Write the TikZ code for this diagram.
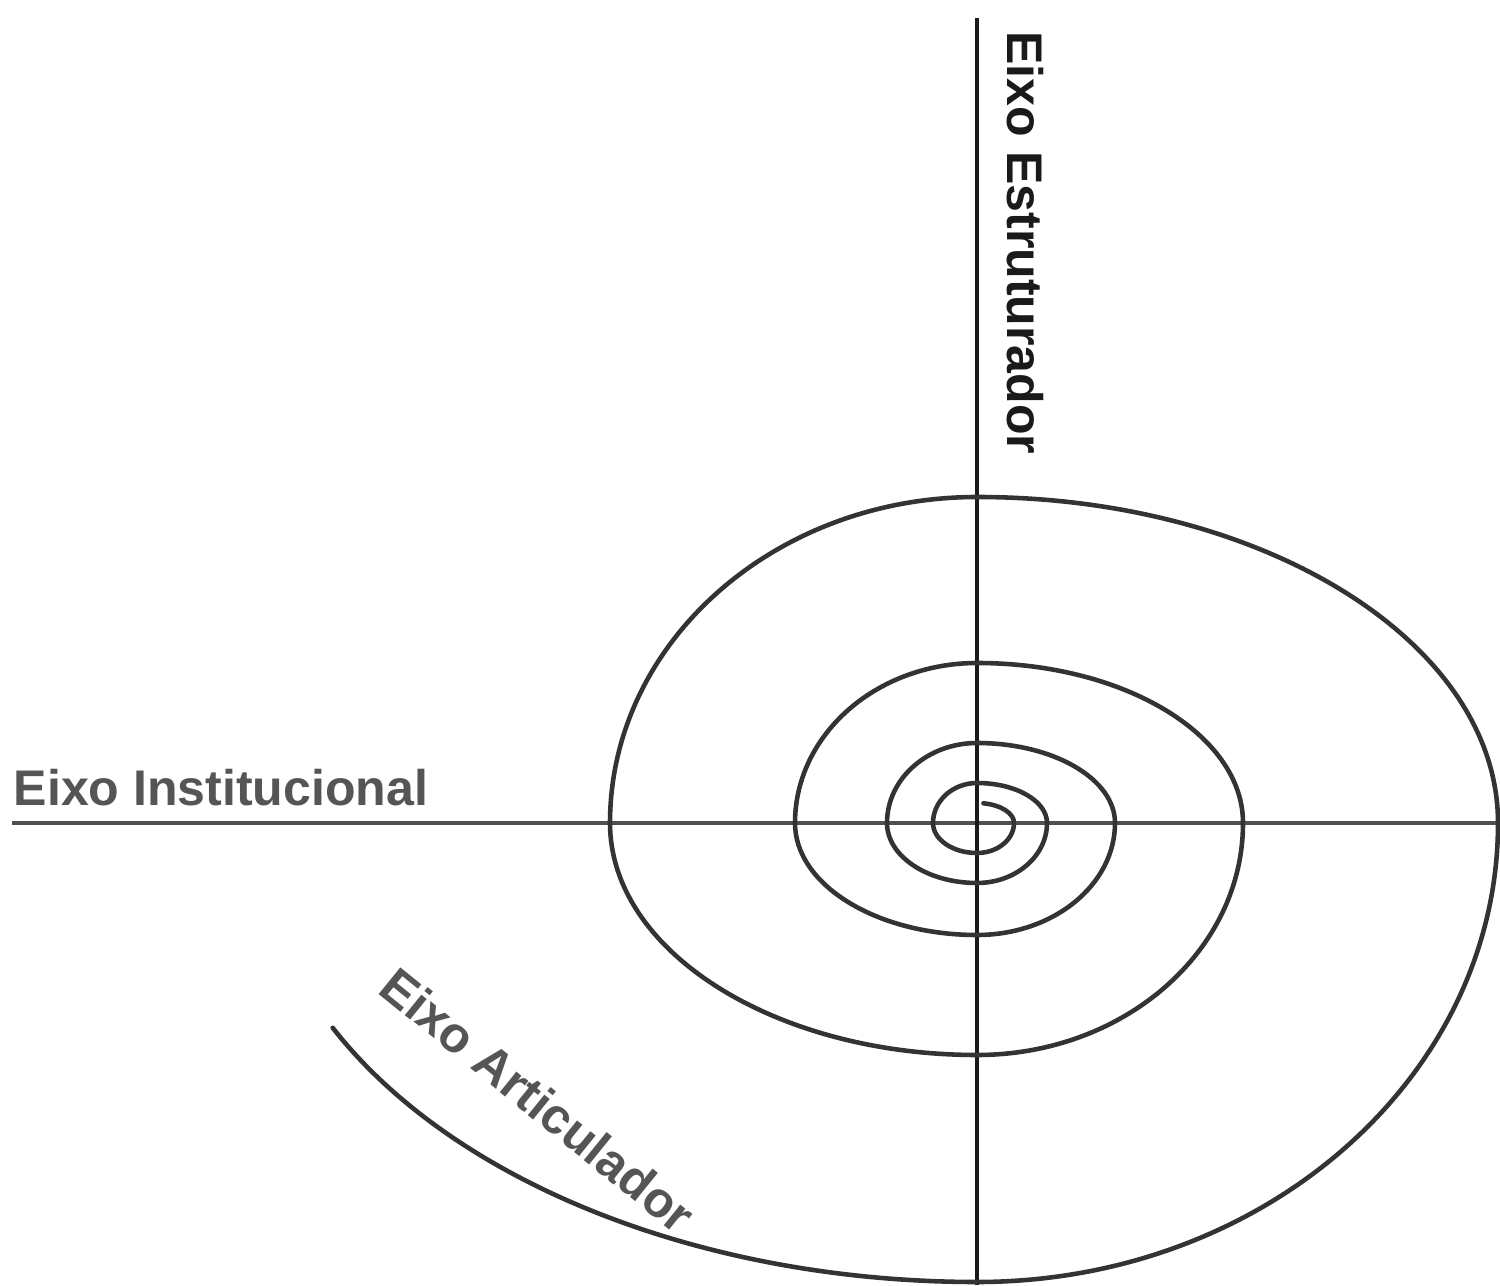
\documentclass[tikz,border=0pt]{standalone}
\usepackage{fontspec}
\setmainfont{Liberation Sans}
\usetikzlibrary{calc}
\definecolor{spiralc}{HTML}{333333}
\definecolor{hax}{HTML}{505050}
\definecolor{vax}{HTML}{1A1A1A}
\definecolor{labgray}{HTML}{555555}
\definecolor{labdark}{HTML}{1A1A1A}
\tikzset{
  spiral/.style={draw=spiralc, line width=2.6pt, line cap=round},
  haxis/.style={draw=hax, line width=2.1pt},
  vaxis/.style={draw=vax, line width=1.9pt},
  axlabel/.style={font=\fontsize{28.5}{30}\selectfont\bfseries, inner sep=0pt, anchor=center},
}
\begin{document}
\begin{tikzpicture}[x=0.02cm, y=0.02cm]
\useasboundingbox (0,0) rectangle (1500,1285);
\fill[white] (0,0) rectangle (1500,1285);
% axes
\coordinate (C) at (977,462);
\coordinate (hL) at (12,462);
\coordinate (hR) at (1500,462);
\coordinate (vT) at (977,1267);
\coordinate (vB) at (977,0);
\draw[haxis] (hL) -- (hR);
\draw[vaxis] (vT) -- (vB);
% spiral
\path (C) ++(80:37 and 20) coordinate (s0);
\draw[spiral] (s0)
  arc[start angle=80,  end angle=0,    x radius=37,  y radius=20]
  arc[start angle=0,   end angle=-90,  x radius=37,  y radius=30]
  arc[start angle=-90, end angle=-180, x radius=44,  y radius=30]
  arc[start angle=180, end angle=90,   x radius=44,  y radius=40]
  arc[start angle=90,  end angle=0,    x radius=70,  y radius=40]
  arc[start angle=0,   end angle=-90,  x radius=70,  y radius=60]
  arc[start angle=-90, end angle=-180, x radius=90,  y radius=60]
  arc[start angle=180, end angle=90,   x radius=90,  y radius=80]
  arc[start angle=90,  end angle=0,    x radius=138, y radius=80]
  arc[start angle=0,   end angle=-90,  x radius=138, y radius=112]
  arc[start angle=-90, end angle=-180, x radius=182, y radius=112]
  arc[start angle=180, end angle=90,   x radius=182, y radius=160]
  arc[start angle=90,  end angle=0,    x radius=266, y radius=160]
  arc[start angle=0,   end angle=-90,  x radius=266, y radius=232]
  arc[start angle=-90, end angle=-180, x radius=367, y radius=232]
  arc[start angle=180, end angle=90,   x radius=367, y radius=326]
  arc[start angle=90,  end angle=0,    x radius=521, y radius=326]
  arc[start angle=0,   end angle=-90,  x radius=521, y radius=459]
  arc[start angle=-90, end angle=-153.5, x radius=720, y radius=459];
% labels
\node[axlabel, text=labgray] (inst) at (221,497) {Eixo Institucional};
\node[axlabel, text=labdark, rotate=-90] (estr) at (1025,1042) {Eixo Estruturador};
\node[axlabel, text=labgray, rotate=-39] (art) at (538,185) {Eixo Articulador};
\end{tikzpicture}
\end{document}
